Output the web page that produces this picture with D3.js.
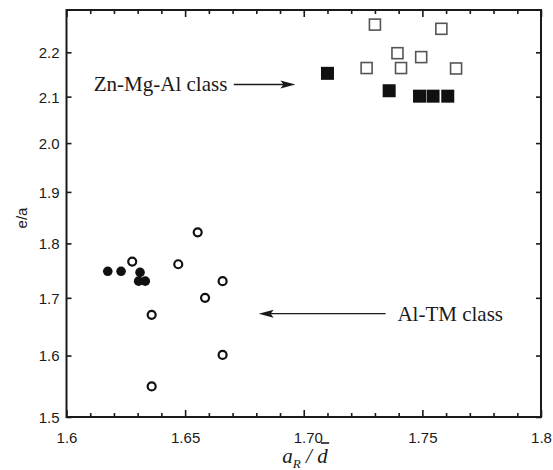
<!DOCTYPE html>
<html>
<head>
<meta charset="utf-8">
<script src="https://cdn.jsdelivr.net/npm/d3@7"></script>
<style>
  html, body { margin: 0; padding: 0; background: #fff; }
  svg { display: block; }
</style>
</head>
<body>
<svg id="chart" width="553" height="470"></svg>
<script>
// ---- data ----
const openSquaresX = [1.730, 1.758, 1.7395, 1.7495, 1.7265, 1.741, 1.7642];
const openSquaresY = [2.265, 2.255, 2.198, 2.189, 2.164, 2.164, 2.163];
const filledSquaresX = [1.710, 1.736, 1.7488, 1.7545, 1.7607];
const filledSquaresY = [2.152, 2.113, 2.101, 2.101, 2.101];
const openCirclesX = [1.6277, 1.6553, 1.6471, 1.6658, 1.6584, 1.6359, 1.6658, 1.6359];
const openCirclesY = [1.766, 1.821, 1.761, 1.730, 1.700, 1.670, 1.601, 1.549];
const filledCirclesX = [1.6174, 1.6230, 1.6310, 1.6304, 1.6332];
const filledCirclesY = [1.748, 1.748, 1.746, 1.730, 1.730];
const xTicks = [1.6, 1.65, 1.70, 1.75, 1.8];
const xTickLabels = ["1.6", "1.65", "1.70", "1.75", "1.8"];
const yTicks = [1.5, 1.6, 1.7, 1.8, 1.9, 2.0, 2.1, 2.2];
const yTickLabels = ["1.5", "1.6", "1.7", "1.8", "1.9", "2.0", "2.1", "2.2"];
const annotations = [
  { text: "Zn-Mg-Al class", y: 2.127, textX: 1.6115, arrowFrom: 1.6705, arrowTo: 1.6965, dir: 1 },
  { text: "Al-TM class", y: 1.672, textX: 1.7395, arrowFrom: 1.7345, arrowTo: 1.681, dir: -1 }
];

// ---- layout ----
const svg = d3.select("#chart");
const L = 66.5, R = 541, T = 10, B = 417;
const xScale = d3.scaleLinear().domain([1.6, 1.8]).range([L, R]);
const yScale = d3.scaleLog().domain([1.5, 2.3]).range([B, T]);
const ink = "#1a1a1a";

const minorX = d3.range(0, 21).map(i => 1.6 + i * 0.01);
const isMajor = v => Math.abs(Math.round(v * 20) - v * 20) < 1e-6;

// bottom axis ticks
const gBottom = svg.append("g").attr("transform", `translate(0,${B})`)
  .call(d3.axisBottom(xScale).tickValues(minorX).tickSize(0).tickFormat(""));
gBottom.select(".domain").remove();
gBottom.selectAll(".tick line").remove();
gBottom.selectAll(".tick").append("line")
  .attr("y1", 0).attr("y2", d => isMajor(d) ? -7 : -4)
  .attr("stroke", ink).attr("stroke-width", 1.6);

// bottom labels
const gXLab = svg.append("g").attr("transform", `translate(0,${B})`)
  .call(d3.axisBottom(xScale).tickValues(xTicks).tickSize(0)
    .tickFormat((d, i) => xTickLabels[i]));
gXLab.select(".domain").remove();
gXLab.selectAll(".tick line").remove();
gXLab.selectAll("text").attr("dy", 0).attr("y", 26)
  .style("font-family", "'Liberation Sans', Arial, sans-serif")
  .style("font-size", "15px").attr("fill", ink);
gXLab.selectAll(".tick").filter(d => Math.abs(d - 1.7) < 1e-9).select("text").attr("dx", 4);

// top axis ticks
const gTop = svg.append("g").attr("transform", `translate(0,${T})`)
  .call(d3.axisTop(xScale).tickValues(minorX).tickSize(0).tickFormat(""));
gTop.select(".domain").remove();
gTop.selectAll(".tick line").remove();
gTop.selectAll(".tick").append("line")
  .attr("y1", 0).attr("y2", d => isMajor(d) ? 7 : 4)
  .attr("stroke", ink).attr("stroke-width", 1.6);

// left axis
const gLeft = svg.append("g").attr("transform", `translate(${L},0)`)
  .call(d3.axisLeft(yScale).tickValues(yTicks).tickSize(0)
    .tickFormat((d, i) => yTickLabels[i]));
gLeft.select(".domain").remove();
gLeft.selectAll(".tick line").remove();
gLeft.selectAll(".tick").append("line").attr("x1", 0).attr("x2", 5)
  .attr("stroke", ink).attr("stroke-width", 1.6);
gLeft.selectAll("text").attr("x", -7).attr("dy", "0.36em")
  .style("font-family", "'Liberation Sans', Arial, sans-serif")
  .style("font-size", "15px").attr("fill", ink);

// right axis ticks
const gRight = svg.append("g").attr("transform", `translate(${R},0)`)
  .call(d3.axisRight(yScale).tickValues(yTicks).tickSize(0).tickFormat(""));
gRight.select(".domain").remove();
gRight.selectAll(".tick line").remove();
gRight.selectAll(".tick").append("line").attr("x1", 0).attr("x2", -5)
  .attr("stroke", ink).attr("stroke-width", 1.6);

// frame
svg.append("rect").attr("x", L).attr("y", T).attr("width", R - L).attr("height", B - T)
  .attr("fill", "none").attr("stroke", ink).attr("stroke-width", 2);

// axis titles
svg.append("text")
  .attr("transform", `translate(27,218) rotate(-90)`)
  .attr("text-anchor", "middle")
  .style("font-family", "'Liberation Sans', Arial, sans-serif")
  .style("font-size", "15px").attr("fill", ink).text("e/a");

const xt = svg.append("text")
  .attr("x", 305).attr("y", 463).attr("text-anchor", "middle")
  .style("font-family", "'Liberation Serif', 'Times New Roman', serif")
  .style("font-style", "italic").style("font-size", "21px").attr("fill", ink);
xt.append("tspan").text("a");
xt.append("tspan").attr("dy", 5).style("font-size", "13px").text("R");
xt.append("tspan").attr("dy", -5).text(" / ");
const dSpan = xt.append("tspan").text("d");
// bar over d (d̄)
const dBox = dSpan.node().getBBox();
svg.append("line")
  .attr("x1", dBox.x + dBox.width * 0.35).attr("x2", dBox.x + dBox.width + 1)
  .attr("y1", 443).attr("y2", 443)
  .attr("stroke", ink).attr("stroke-width", 1.6);

// markers
const zip = (xs, ys) => xs.map((v, i) => ({ x: v, y: ys[i] }));
svg.append("g").selectAll("rect").data(zip(openSquaresX, openSquaresY)).join("rect")
  .attr("x", d => xScale(d.x) - 5.5).attr("y", d => yScale(d.y) - 5.5)
  .attr("width", 11).attr("height", 11)
  .attr("fill", "#fff").attr("stroke", "#555").attr("stroke-width", 1.6);
svg.append("g").selectAll("rect").data(zip(filledSquaresX, filledSquaresY)).join("rect")
  .attr("x", d => xScale(d.x) - 6.5).attr("y", d => yScale(d.y) - 6.5)
  .attr("width", 13).attr("height", 13).attr("fill", "#111");
svg.append("g").selectAll("circle").data(zip(openCirclesX, openCirclesY)).join("circle")
  .attr("cx", d => xScale(d.x)).attr("cy", d => yScale(d.y)).attr("r", 4)
  .attr("fill", "#fff").attr("stroke", "#111").attr("stroke-width", 2.2);
svg.append("g").selectAll("circle").data(zip(filledCirclesX, filledCirclesY)).join("circle")
  .attr("cx", d => xScale(d.x)).attr("cy", d => yScale(d.y)).attr("r", 4.8)
  .attr("fill", "#111");

// annotations
annotations.forEach(a => {
  const yy = yScale(a.y);
  const g = svg.append("g");
  g.append("text").attr("x", xScale(a.textX)).attr("y", yy + 7)
    .style("font-family", "'Liberation Serif', 'Times New Roman', serif")
    .style("font-size", "21px").attr("fill", ink).text(a.text);
  const x1 = xScale(a.arrowFrom), x2 = xScale(a.arrowTo);
  g.append("line").attr("x1", x1).attr("x2", x2 - a.dir * 10).attr("y1", yy).attr("y2", yy)
    .attr("stroke", ink).attr("stroke-width", 1.4);
  g.append("path")
    .attr("d", `M${x2},${yy} L${x2 - a.dir * 15},${yy - 4} L${x2 - a.dir * 12},${yy} L${x2 - a.dir * 15},${yy + 4} Z`)
    .attr("fill", ink);
});
</script>
</body>
</html>
